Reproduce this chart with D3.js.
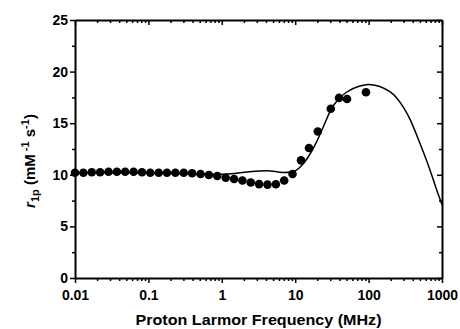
<!DOCTYPE html>
<html>
<head>
<meta charset="utf-8">
<script src="https://cdn.jsdelivr.net/npm/d3@7"></script>
<style>
  body { margin: 0; background: #fff; }
  text { font-family: "Liberation Sans", Arial, sans-serif; font-weight: bold; fill: #000; }
</style>
</head>
<body>
<div id="my_dataviz"></div>
<script>
// measured points (MHz, r1p)
var dataFreq = [0.010, 0.0130, 0.0169, 0.0220, 0.0286, 0.0372, 0.0483, 0.0628, 0.0817,
                0.106, 0.138, 0.179, 0.233, 0.303, 0.394, 0.513, 0.667, 0.867,
                1.13, 1.47, 1.91, 2.48, 3.22, 4.19, 5.45, 7.08, 9.2,
                12, 15.4, 20.3, 30.5, 39.5, 50.8, 92];
var dataR1 = [10.2, 10.2, 10.25, 10.25, 10.3, 10.3, 10.3, 10.3, 10.25,
              10.2, 10.2, 10.2, 10.2, 10.2, 10.15, 10.08, 9.98, 9.88,
              9.72, 9.6, 9.45, 9.25, 9.1, 9.05, 9.08, 9.45, 10.08,
              11.4, 12.6, 14.2, 16.4, 17.45, 17.35, 18.0];

// fitted curve
var fitFreq = [0.01, 0.03, 0.1, 0.3, 0.6, 1.0, 1.5, 2.4, 4.2, 6.8, 9.4, 11.9, 15.1, 19.1,
               24.2, 30.6, 39, 50, 76, 99, 195, 294, 366, 500, 686, 847, 1000];
var fitR1 = [10.2, 10.2, 10.18, 10.12, 10.06, 10.05, 10.12, 10.3, 10.4, 10.22, 10.3, 10.8, 11.75, 13.05,
             14.66, 16.3, 17.35, 18.0, 18.6, 18.75, 18.05, 16.6, 15.4, 13.05, 10.47, 8.53, 7.1];

var xTicks = [0.01, 0.1, 1, 10, 100, 1000];
var xTickLabels = ["0.01", "0.1", "1", "10", "100", "1000"];
var yTicks = [0, 5, 10, 15, 20, 25];

var margin = {top: 20, right: 18, bottom: 51, left: 75},
    width = 460 - margin.left - margin.right,
    height = 329 - margin.top - margin.bottom;

var svg = d3.select("#my_dataviz")
  .append("svg")
    .attr("width", 460)
    .attr("height", 329)
  .append("g")
    .attr("transform", "translate(" + margin.left + "," + margin.top + ")");

var x = d3.scaleLog().domain([0.01, 1000]).range([0, width]);
var y = d3.scaleLinear().domain([0, 25]).range([height, 0]);

// minor log ticks 2..9 in each decade
var minorX = [];
xTicks.slice(0, -1).forEach(function(d) {
  for (var k = 2; k <= 9; k++) minorX.push(d * k);
});
var minorY = [2.5, 7.5, 12.5, 17.5, 22.5];

function styleAxis(g) {
  g.select(".domain").attr("stroke-width", 2);
  g.selectAll(".tick line").attr("stroke-width", 1.5);
}
function minorStyle(g) {
  g.select(".domain").remove();
  g.selectAll("line").attr("stroke-width", 1.5);
}

// bottom axis
var xAxisG = svg.append("g")
  .attr("transform", "translate(0," + height + ")")
  .call(d3.axisBottom(x).tickValues(xTicks).tickFormat(function(d, i) { return xTickLabels[i]; })
        .tickSize(5).tickPadding(7).tickSizeOuter(0))
  .call(styleAxis);
xAxisG.selectAll("text").style("font-size", "14px");
svg.append("g")
  .attr("transform", "translate(0," + height + ")")
  .call(d3.axisBottom(x).tickValues(minorX).tickFormat("").tickSize(3).tickSizeOuter(0))
  .call(minorStyle);

// left axis
var yAxisG = svg.append("g")
  .call(d3.axisLeft(y).tickValues(yTicks).tickSize(5).tickPadding(2).tickSizeOuter(0))
  .call(styleAxis);
yAxisG.selectAll("text").style("font-size", "14px");
svg.append("g")
  .call(d3.axisLeft(y).tickValues(minorY).tickFormat("").tickSize(3).tickSizeOuter(0))
  .call(minorStyle);

// top axis (ticks inward)
svg.append("g")
  .call(d3.axisBottom(x).tickValues(xTicks).tickFormat("").tickSize(5).tickSizeOuter(0))
  .call(styleAxis);
svg.append("g")
  .call(d3.axisBottom(x).tickValues(minorX).tickFormat("").tickSize(3).tickSizeOuter(0))
  .call(minorStyle);

// right axis (ticks inward)
svg.append("g")
  .attr("transform", "translate(" + width + ",0)")
  .call(d3.axisLeft(y).tickValues(yTicks).tickFormat("").tickSize(5).tickSizeOuter(0))
  .call(styleAxis);
svg.append("g")
  .attr("transform", "translate(" + width + ",0)")
  .call(d3.axisLeft(y).tickValues(minorY).tickFormat("").tickSize(3).tickSizeOuter(0))
  .call(minorStyle);

// fit line
var fit = fitFreq.map(function(f, i) { return {f: f, r: fitR1[i]}; });
svg.append("path")
  .datum(fit)
  .attr("fill", "none")
  .attr("stroke", "#000")
  .attr("stroke-width", 1.5)
  .attr("d", d3.line()
    .curve(d3.curveMonotoneX)
    .x(function(d) { return x(d.f); })
    .y(function(d) { return y(d.r); }));

// data points
var pts = dataFreq.map(function(f, i) { return {f: f, r: dataR1[i]}; });
svg.selectAll("circle.pt")
  .data(pts)
  .enter()
  .append("circle")
    .attr("class", "pt")
    .attr("cx", function(d) { return x(d.f); })
    .attr("cy", function(d) { return y(d.r); })
    .attr("r", 4.3)
    .attr("fill", "#000");

// axis titles
svg.append("text")
  .attr("x", width / 2)
  .attr("y", height + 47)
  .attr("text-anchor", "middle")
  .attr("textLength", 246)
  .attr("lengthAdjust", "spacingAndGlyphs")
  .style("font-size", "15px")
  .text("Proton Larmor Frequency (MHz)");

var yl = svg.append("text")
  .attr("transform", "translate(-40," + (height / 2 + 12) + ") rotate(-90)")
  .attr("text-anchor", "middle")
  .style("font-size", "15px");
yl.append("tspan").style("font-style", "italic").text("r");
yl.append("tspan").attr("dy", 4).style("font-size", "11px").text("1p");
yl.append("tspan").attr("dy", -4).text(" (mM");
yl.append("tspan").attr("dy", -6).style("font-size", "11px").text(" -1");
yl.append("tspan").attr("dy", 6).text(" s");
yl.append("tspan").attr("dy", -6).style("font-size", "11px").text("-1");
yl.append("tspan").attr("dy", 6).text(")");
</script>
</body>
</html>
